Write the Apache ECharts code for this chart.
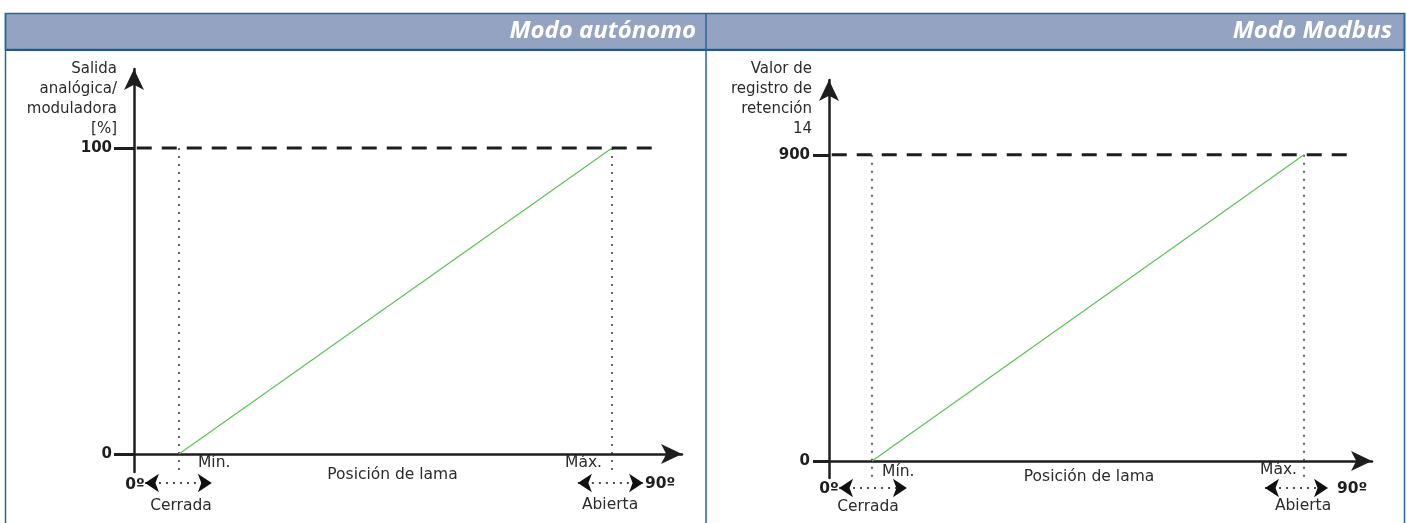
<!DOCTYPE html>
<html><head><meta charset="utf-8">
<script src="https://cdn.jsdelivr.net/npm/echarts@6/dist/echarts.min.js"></script>
<style>html,body{margin:0;padding:0;background:#fff}#c{width:1407px;height:523px}</style>
</head><body><div id="c"></div>
<script>
// ---- texts ----
const panelTitles = ['Modo autónomo', 'Modo Modbus'];
const yAxisNames = ['Salida\nanalógica/\nmoduladora\n[%]', 'Valor de\nregistro de\nretención\n14'];
const xAxisName = 'Posición de lama';
const positionLabels = ['Mín.', 'Máx.'];
const angleLabels = ['0º', '90º'];
const stateLabels = ['Cerrada', 'Abierta'];

// ---- autonomous mode: lama position (% of axis) vs analog output (%) ----
const autoPosition = [8.21, 87.23];
const autoOutput = [0, 100];
const autoTicks = [0, 100];
const autoYRange = [-5.9, 125.8];
const autoRefEnd = 96.0;
const autoArrowSpans = [[2.0, 14.2], [81.0, 92.9]];
const autoArrowLevel = -9.5;

// ---- Modbus mode: lama position (% of axis) vs holding register 14 ----
const modbusPosition = [7.92, 87.48];
const modbusRegister = [0, 900];
const modbusTicks = [0, 900];
const modbusYRange = [-50, 1120];
const modbusRefEnd = 96.9;
const modbusArrowSpans = [[1.85, 14.35], [80.3, 91.9]];
const modbusArrowLevel = -79.4;

const FONT = 'DejaVu Sans';
const TXT = '#2b2b2b';
const AX = '#1e1e1e';

function panel(i, cfg) {
  const xAxis = {
    gridIndex: i, type: 'value', min: 0, max: 100,
    axisLine: { show: true, onZero: true, symbol: ['none', 'arrow'], symbolSize: [15, 21],
      lineStyle: { color: AX, width: 2.5 } },
    axisTick: { show: false }, axisLabel: { show: false }, splitLine: { show: false }
  };
  const yAxis = {
    gridIndex: i, type: 'value', min: cfg.yRange[0], max: cfg.yRange[1],
    name: cfg.name, nameLocation: 'end', nameGap: cfg.nameGap, nameMoveOverlap: false,
    nameTextStyle: { align: 'right', verticalAlign: 'top', fontFamily: FONT, fontSize: 15,
      lineHeight: 20, color: TXT, padding: [0, 17, 0, 0] },
    axisLine: { show: true, onZero: false, symbol: ['none', 'arrow'], symbolSize: [15, 21],
      lineStyle: { color: AX, width: 2.5 } },
    axisTick: { show: true, inside: false, length: cfg.tickLen, customValues: cfg.ticks,
      lineStyle: { color: AX, width: 3 } },
    axisLabel: { show: true, customValues: cfg.ticks, margin: cfg.labelMargin,
      fontFamily: FONT, fontSize: 15, fontWeight: 'bold', color: AX },
    splitLine: { show: false }
  };
  const pMin = cfg.pos[0], pMax = cfg.pos[1];
  const top = cfg.val[1];
  const series = [];
  // dashed reference level
  series.push({
    type: 'line', xAxisIndex: i, yAxisIndex: i, symbol: 'none', silent: true, clip: false, z: 3,
    data: [[0.5, top], [cfg.refEnd, top]],
    lineStyle: { color: AX, width: 3, type: [15, 10] }
  });
  // dotted verticals at Mín./Máx.
  cfg.pos.forEach(function (p) {
    series.push({
      type: 'line', xAxisIndex: i, yAxisIndex: i, symbol: 'none', silent: true, clip: false, z: 2,
      data: [[p, top], [p, cfg.yRange[0]]],
      lineStyle: { color: '#333', width: 1.5, type: [2, 6] }
    });
  });
  // green characteristic
  series.push({
    type: 'line', xAxisIndex: i, yAxisIndex: i, symbol: 'none', silent: true, clip: false, z: 4,
    data: [[pMin, cfg.val[0]], [pMax, cfg.val[1]]],
    lineStyle: { color: '#5cc256', width: 1.2 }
  });
  // dotted double arrows
  series.push({
    type: 'lines', coordinateSystem: 'cartesian2d', xAxisIndex: i, yAxisIndex: i,
    silent: true, clip: false, z: 4,
    symbol: ['arrow', 'arrow'], symbolSize: 14,
    lineStyle: { color: '#111', width: 1.5, type: [2, 5], opacity: 1 },
    data: cfg.arrows.map(function (s) { return { coords: [[s[0], cfg.arrowLevel], [s[1], cfg.arrowLevel]] }; })
  });
  // text annotations anchored to data points
  const o = cfg.off;
  function item(x, y, text, align, offset, bold) {
    return { value: [x, y], label: { formatter: text, align: align, offset: offset,
      fontWeight: bold ? 'bold' : 'normal', color: bold ? AX : TXT } };
  }
  series.push({
    type: 'scatter', xAxisIndex: i, yAxisIndex: i, symbol: 'circle', symbolSize: 0,
    itemStyle: { color: TXT, opacity: 1 },
    silent: true, clip: false, z: 6,
    label: { show: true, position: [0, 0], verticalAlign: 'middle', fontFamily: FONT, fontSize: 15.5,
      color: TXT, opacity: 1, textBorderWidth: 0 },
    data: [
      item(pMin, 0, positionLabels[0], 'left', o.min),
      item(pMax, 0, positionLabels[1], 'right', o.max),
      item(0, 0, angleLabels[0], 'center', o.zero, true),
      item(pMax, 0, angleLabels[1], 'left', o.ninety, true),
      item(pMin, 0, stateLabels[0], 'center', o.closed),
      item(pMax, 0, stateLabels[1], 'center', o.open),
      item((pMin + pMax) / 2, 0, xAxisName, 'center', o.name)
    ]
  });
  return { grid: cfg.grid, xAxis: xAxis, yAxis: yAxis, series: series };
}

const p0 = panel(0, {
  grid: { left: 134, right: 725, top: 69, bottom: 51 },
  yRange: autoYRange, name: yAxisNames[0], nameGap: 10, ticks: autoTicks, tickLen: 20, labelMargin: 22,
  pos: autoPosition, val: autoOutput, refEnd: autoRefEnd,
  arrows: autoArrowSpans, arrowLevel: autoArrowLevel,
  off: { min: [19, 9], max: [-10, 9], zero: [1, 31], ninety: [33, 30], closed: [2, 52], open: [-2, 51], name: [-3, 21] }
});
const p1 = panel(1, {
  grid: { left: 829, right: 35, top: 80, bottom: 45 },
  yRange: modbusYRange, name: yAxisNames[1], nameGap: 21, ticks: modbusTicks, tickLen: 16, labelMargin: 19,
  pos: modbusPosition, val: modbusRegister, refEnd: modbusRefEnd,
  arrows: modbusArrowSpans, arrowLevel: modbusArrowLevel,
  off: { min: [10, 11], max: [-7, 9], zero: [0, 28], ninety: [33, 28], closed: [-4, 46], open: [-1, 45], name: [1, 16] }
});

const titleStyle = { color: '#fff', fontStyle: 'italic', fontWeight: 'bold', fontSize: 24, fontFamily: 'Open Sans' };
const frame = '#2a6496';

const chart = echarts.init(document.getElementById('c'), null, { renderer: 'canvas' });
chart.setOption({
  animation: false,
  backgroundColor: '#fff',
  title: [
    { text: panelTitles[0], right: 711, top: 19, padding: 0, textStyle: titleStyle },
    { text: panelTitles[1], right: 15, top: 19, padding: 0, textStyle: titleStyle }
  ],
  graphic: [
    { type: 'rect', z: -10, shape: { x: 5.5, y: 13.5, width: 1399, height: 36 },
      style: { fill: '#94a3c1', stroke: frame, lineWidth: 1.5 } },
    { type: 'line', z: -9, shape: { x1: 5.5, y1: 50, x2: 1404.5, y2: 50 }, style: { stroke: '#1f5a8a', lineWidth: 2 } },
    { type: 'line', z: -9, shape: { x1: 5.5, y1: 13, x2: 5.5, y2: 523 }, style: { stroke: frame, lineWidth: 1.5 } },
    { type: 'line', z: -9, shape: { x1: 706, y1: 13, x2: 706, y2: 523 }, style: { stroke: frame, lineWidth: 1.5 } },
    { type: 'line', z: -9, shape: { x1: 1404.5, y1: 13, x2: 1404.5, y2: 523 }, style: { stroke: frame, lineWidth: 1.5 } }
  ],
  grid: [p0.grid, p1.grid],
  xAxis: [p0.xAxis, p1.xAxis],
  yAxis: [p0.yAxis, p1.yAxis],
  series: p0.series.concat(p1.series)
});
</script>
</body></html>
